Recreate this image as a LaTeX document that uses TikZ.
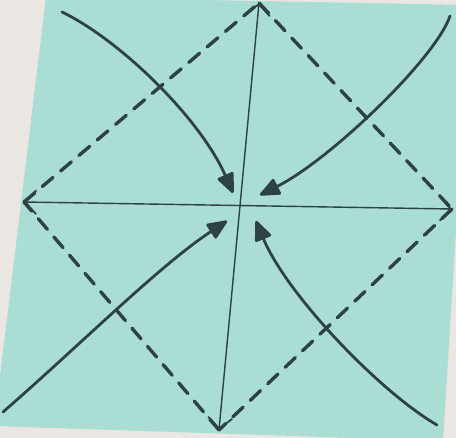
\documentclass[tikz,border=0pt]{standalone}
\usetikzlibrary{arrows.meta}
\definecolor{bgwhite}{RGB}{234,230,226}
\definecolor{paper}{RGB}{170,221,212}
\definecolor{ink}{RGB}{45,66,66}
\tikzset{
  axisline/.style={ink, line width=1.4pt, {Straight Barb[length=11pt,width=24pt,line width=1.8pt]}-{Straight Barb[length=11pt,width=24pt,line width=1.8pt]}},
  foldline/.style={ink, line width=3.4pt, dash pattern=on 14pt off 10pt, line cap=round},
  movearrow/.style={ink, line width=2.8pt, line cap=round, -{Triangle[length=22pt,width=18pt,round]}}
}
\begin{document}
\begin{tikzpicture}[x=1pt,y=-1pt]
\useasboundingbox (0,0) rectangle (456,438);
\fill[bgwhite] (0,0) rectangle (456,438);
\fill[paper] (46,-3) -- (470,5) -- (443,441) -- (-6,426) -- cycle;
% axis end points
\coordinate (T) at (259,3);
\coordinate (B) at (219,430);
\coordinate (L) at (24,202);
\coordinate (R) at (452,209);
% dashed diamond
\draw[foldline] (T) -- (R);
\draw[foldline] (R) -- (B);
\draw[foldline] (B) -- (L);
\draw[foldline] (L) -- (T);
% axes
\draw[axisline] (L) -- (R);
\draw[axisline] (T) -- (B);
% curved arrows
\coordinate (s1) at (62,12);
\coordinate (e1) at (233,193);
\coordinate (s2) at (450,16);
\coordinate (e2) at (260,195);
\coordinate (s3) at (3,412);
\coordinate (e3) at (227,221);
\coordinate (s4) at (437,425);
\coordinate (e4) at (256,221);
\draw[movearrow] (s1) .. controls (120,40) and (200,118) .. (e1);
\draw[movearrow] (s2) .. controls (436,58) and (330,160) .. (e2);
\draw[movearrow] (s3) .. controls (80,345) and (160,265) .. (e3);
\draw[movearrow] (s4) .. controls (380,392) and (287,295) .. (e4);
\end{tikzpicture}
\end{document}
